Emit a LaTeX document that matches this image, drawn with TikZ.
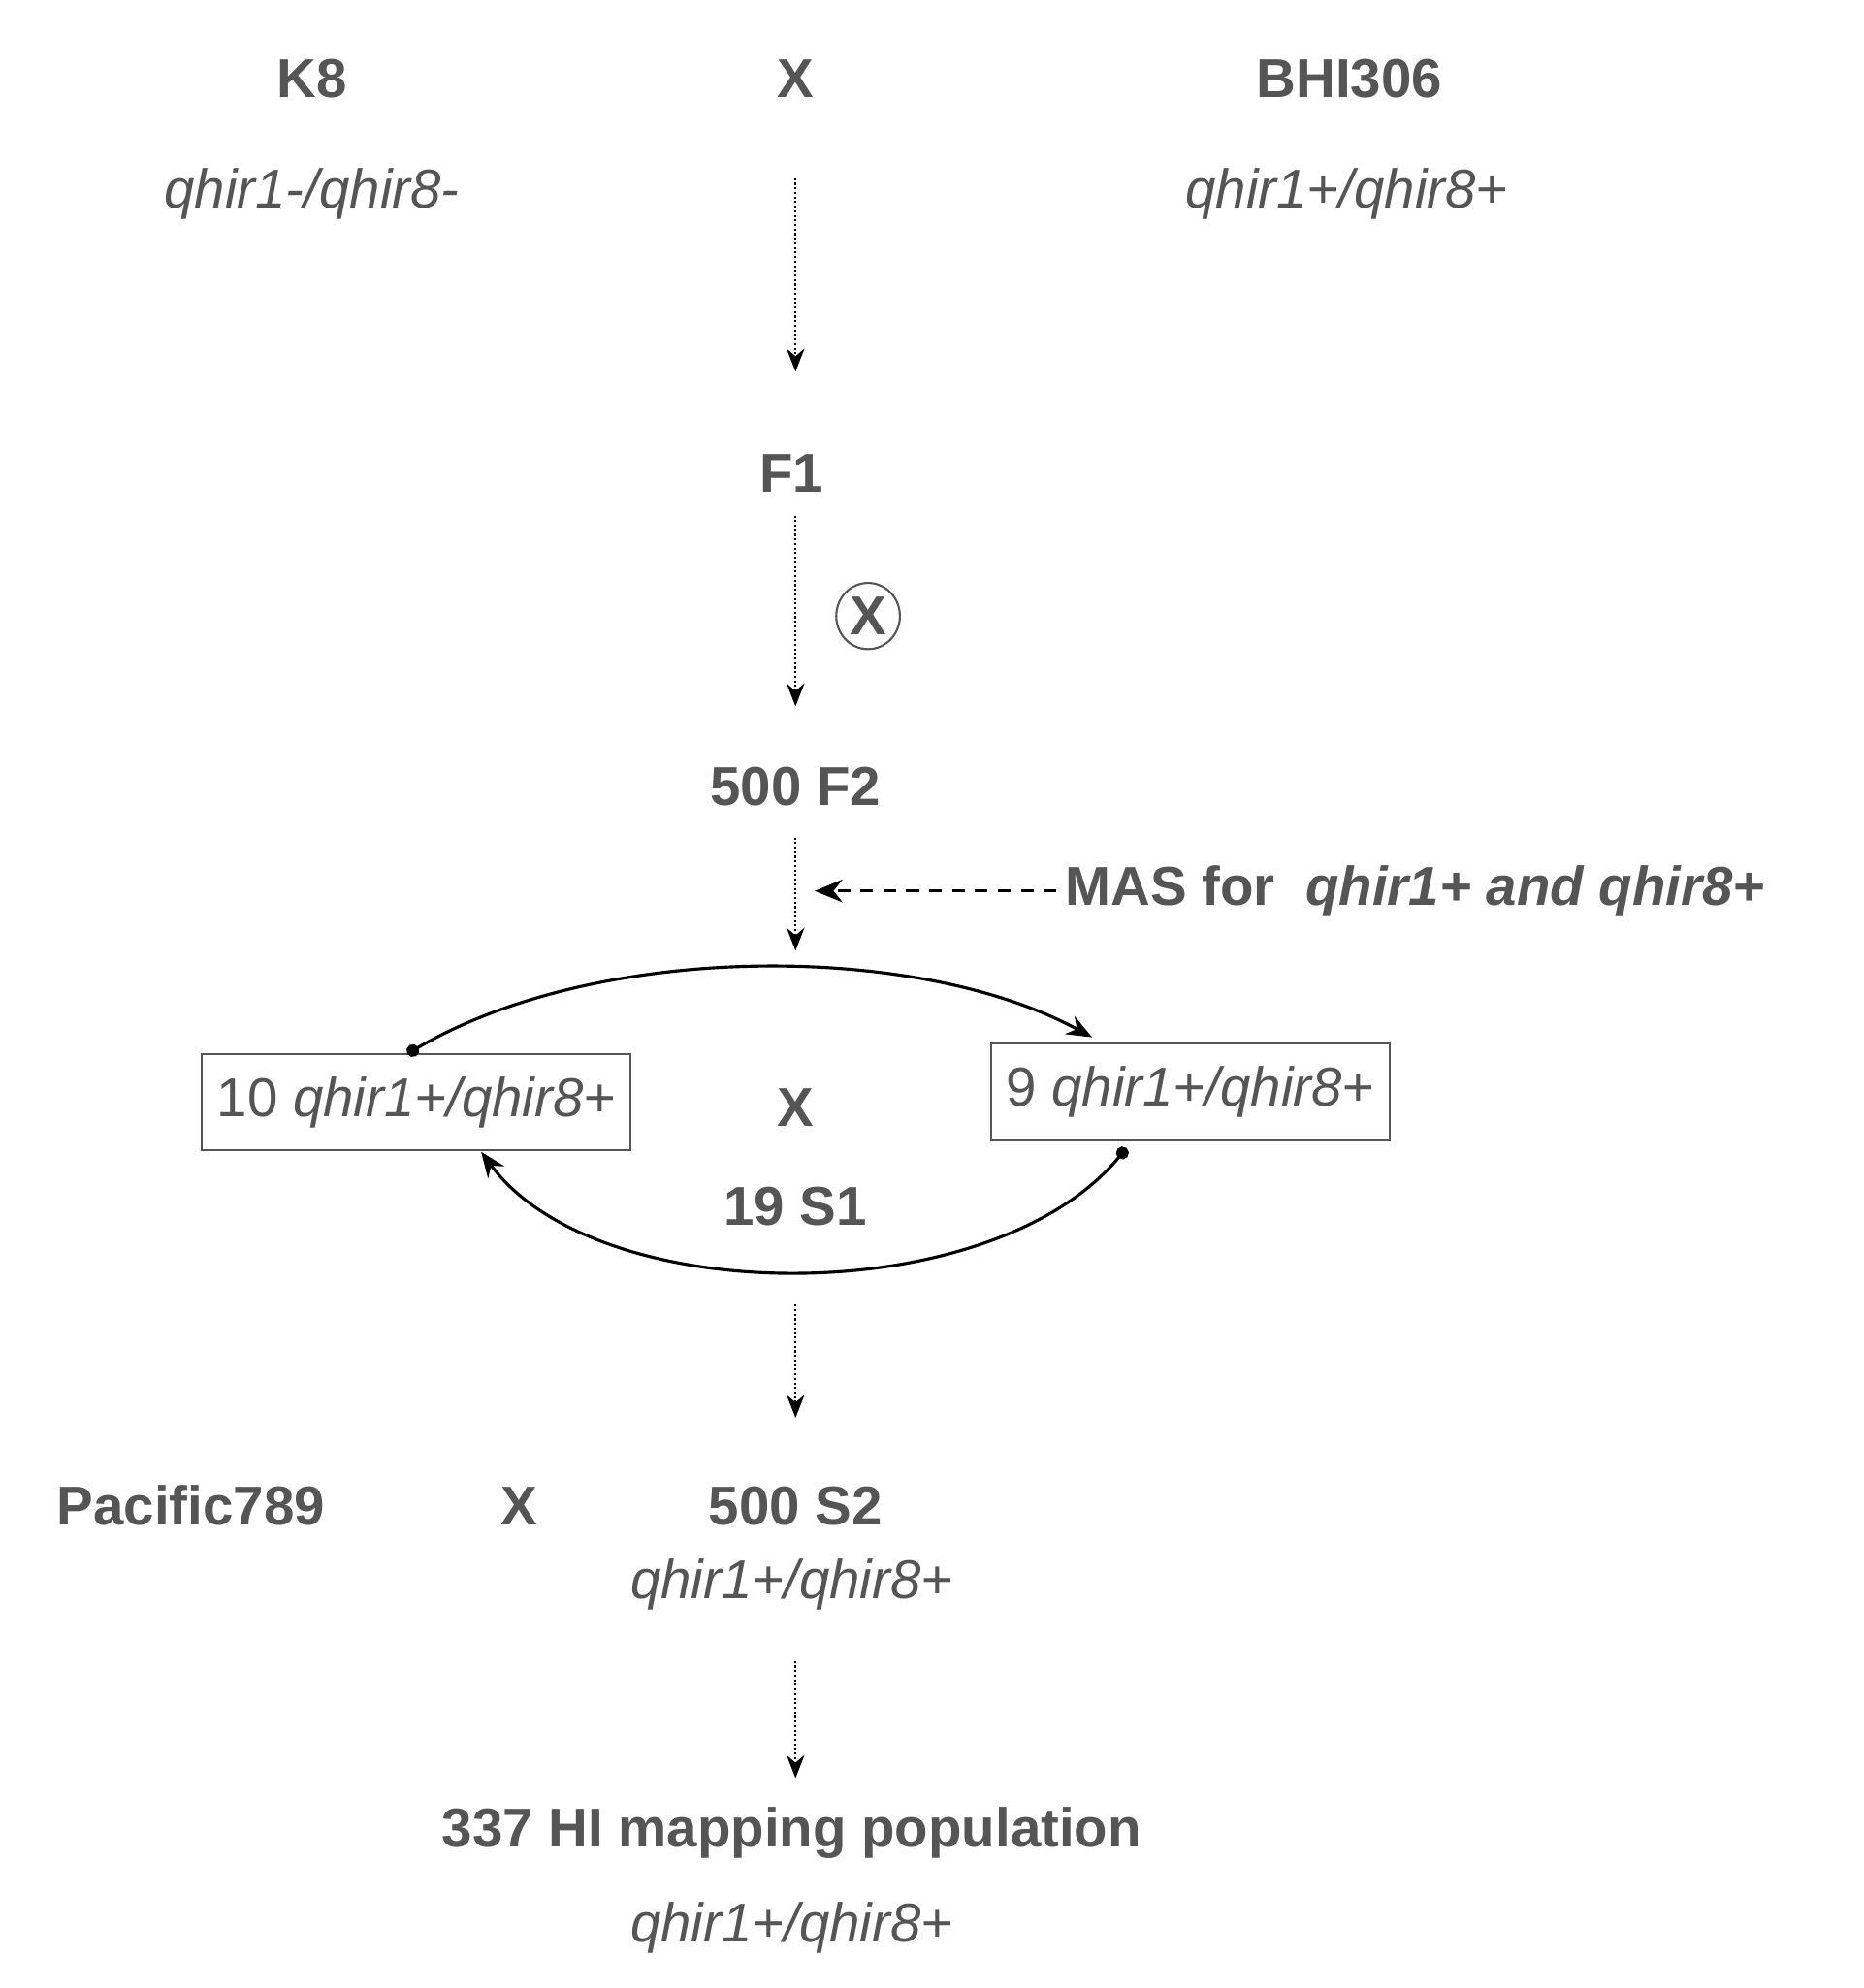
\documentclass[tikz,border=0pt]{standalone}
\usepackage{fontspec}
\setmainfont{Liberation Sans}
\usetikzlibrary{arrows.meta,shapes.geometric}
\definecolor{tg}{HTML}{555555}
\begin{document}
\begin{tikzpicture}[x=0.5pt,y=-0.5pt,
  lab/.style={font=\fontsize{21.5}{26}\selectfont\bfseries,text=tg},
  gen/.style={font=\fontsize{21.5}{26}\selectfont\itshape,text=tg},
  darr/.style={densely dotted,thick,-{Stealth[length=9pt,width=7pt]}},
  boxn/.style={draw=tg,thick,font=\fontsize{21.5}{26}\selectfont,text=tg,minimum height=38pt,inner xsep=6pt},
  arc/.style={line width=1.2pt,{Circle[length=5pt]}-{Stealth[length=10pt,width=8pt]}}]
\useasboundingbox (0,0) rectangle (1464,1562);
\node[lab] (k8) at (245,62) {K8};
\node[lab] (x1) at (625,62) {X};
\node[lab] (bhi) at (1060,62) {BHI306};
\node[gen] (g1) at (245,152) {qhir1-/qhir8-};
\node[gen] (g2) at (1058,152) {qhir1+/qhir8+};
\coordinate (a1) at (625,140); \coordinate (b1) at (625,292);
\draw[darr] (a1) -- (b1);
\node[lab] (f1) at (622,372) {F1};
\coordinate (a2) at (625,405); \coordinate (b2) at (625,555);
\draw[darr] (a2) -- (b2);
\node[draw=tg,ellipse,inner sep=0pt,minimum width=25pt,minimum height=26pt,thick] (cx) at (682,484) {};
\node[lab] at (cx) {X};
\node[lab] (f2) at (625,618) {500 F2};
\coordinate (a3) at (625,658); \coordinate (b3) at (625,747);
\draw[darr] (a3) -- (b3);
\node[lab,anchor=west] (mas) at (830,700) {MAS for\ \ \textit{qhir1+ and qhir8+}};
\coordinate (m2) at (640,700);
\draw[dash pattern=on 5pt off 4pt,line width=1.3pt,-{Stealth[length=11pt,width=9pt]}] (mas.west) -- (m2);
\node[boxn] (bl) at (327,866) {10 \textit{qhir1+/qhir8+}};
\node[lab] (x2) at (625,870) {X};
\node[boxn] (br) at (935,858) {9 \textit{qhir1+/qhir8+}};
\node[lab] (s1) at (625,948) {19 S1};
\coordinate (t1) at (320,828); \coordinate (t2) at (858,815);
\draw[arc] (t1) .. controls (470,740) and (720,740) .. (t2);
\coordinate (u1) at (885,902); \coordinate (u2) at (378,905);
\draw[arc] (u1) .. controls (780,1030) and (470,1030) .. (u2);
\coordinate (a4) at (625,1025); \coordinate (b4) at (625,1114);
\draw[darr] (a4) -- (b4);
\node[lab] (pac) at (150,1183) {Pacific789};
\node[lab] (x3) at (408,1183) {X};
\node[lab] (s2) at (625,1183) {500 S2};
\node[gen] (g3) at (622,1245) {qhir1+/qhir8+};
\coordinate (a5) at (625,1305); \coordinate (b5) at (625,1397);
\draw[darr] (a5) -- (b5);
\node[lab] (hi) at (622,1440) {337 HI mapping population};
\node[gen] (g4) at (622,1515) {qhir1+/qhir8+};
\end{tikzpicture}
\end{document}
